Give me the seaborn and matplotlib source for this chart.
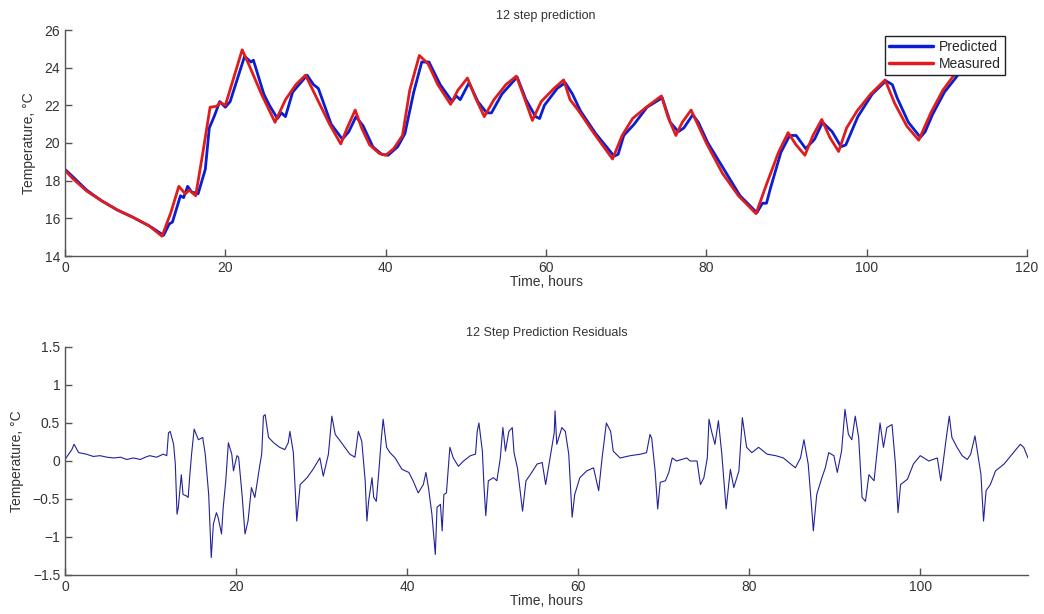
import matplotlib
matplotlib.use("Agg")
import matplotlib.pyplot as plt
import seaborn as sns
import pandas as pd

# ---- data ----
meas_t = [0, 1, 2.7, 4.5, 6.5, 8.5, 10.5, 12.1, 13.2, 14.2, 15.0, 15.5, 16.3, 17.2, 18.1, 18.9, 19.4, 20.0,
          21.0, 22.1, 23.0, 24.5, 26.2, 27.5, 28.8, 30.0, 31.5, 33.0, 34.4, 35.2, 36.2, 37.0, 38.0, 39.2,
          40.0, 41.0, 42.1, 43.0, 44.2, 45.3, 46.5, 48.1, 49.0, 50.2, 51.2, 52.3, 53.5, 55.0, 56.3, 57.3,
          58.3, 59.4, 61.0, 62.2, 63.0, 64.0, 66.0, 68.3, 69.5, 70.8, 72.5, 74.4, 75.2, 76.2, 77.0, 78.1,
          80.0, 82.0, 84.0, 86.2, 87.5, 89.0, 90.2, 91.2, 92.3, 93.3, 94.4, 95.4, 96.5, 97.5, 98.8, 100.5,
          102.3, 103.5, 105.0, 106.5, 108.0, 109.5, 110.8, 112.6]
meas_T = [18.55, 18.1, 17.45, 16.95, 16.45, 16.05, 15.6, 15.05, 16.3, 17.7, 17.3, 17.5, 17.2, 19.5, 21.9, 21.95,
          22.15, 22.0, 23.4, 24.95, 24.1, 22.6, 21.1, 22.3, 23.1, 23.6, 22.3, 21.0, 19.95, 20.8, 21.75, 20.8,
          19.9, 19.45, 19.35, 19.7, 20.4, 22.8, 24.65, 24.2, 23.1, 22.05, 22.8, 23.45, 22.4, 21.4, 22.3, 23.1,
          23.55, 22.4, 21.2, 22.2, 22.9, 23.35, 22.3, 21.75, 20.5, 19.15, 20.4, 21.3, 21.9, 22.5, 21.4, 20.4,
          21.1, 21.75, 20.0, 18.4, 17.2, 16.25, 17.8, 19.5, 20.55, 19.9, 19.35, 20.4, 21.25, 20.3, 19.55, 20.8,
          21.7, 22.6, 23.35, 22.1, 20.9, 20.15, 21.6, 22.8, 23.55, 24.5]

pred_t = [0, 1, 2.7, 4.5, 6.5, 8.5, 10.5, 12.3, 13.0, 13.4, 14.4, 14.8, 15.3, 15.8, 16.6, 17.5, 18.0, 18.6,
          19.3, 20.0, 20.6, 21.2, 22.4, 23.2, 23.5, 24.8, 25.5, 26.5, 27.0, 27.5, 28.4, 30.2, 31.0, 31.6,
          33.2, 34.6, 35.4, 36.3, 37.2, 38.4, 39.5, 40.3, 41.5, 42.4, 43.5, 44.5, 45.4, 46.8, 48.3, 48.8,
          49.3, 50.4, 51.5, 52.6, 53.2, 54.5, 56.4, 57.5, 58.7, 59.2, 59.8, 61.4, 62.4, 63.3, 64.3, 66.2,
          68.5, 69.0, 69.7, 71.0, 72.6, 74.5, 75.5, 76.5, 77.2, 78.3, 79.0, 80.2, 84.2, 86.3, 87.0, 87.5,
          88.0, 89.3, 90.4, 91.2, 92.4, 93.5, 94.5, 95.7, 96.8, 97.4, 98.9, 100.7, 102.4, 103.2, 103.8,
          105.2, 106.7, 107.3, 108.2, 109.7, 111.0, 112.6]
pred_T = [18.6, 18.2, 17.5, 16.95, 16.45, 16.05, 15.6, 15.1, 15.7, 15.8, 17.2, 17.1, 17.7, 17.4, 17.3, 18.6,
          20.8, 21.4, 22.2, 21.9, 22.2, 23.0, 24.6, 24.3, 24.4, 22.6, 22.0, 21.3, 21.6, 21.4, 22.7, 23.6,
          23.1, 22.9, 21.0, 20.2, 20.6, 21.4, 20.9, 19.8, 19.4, 19.35, 19.8, 20.5, 22.7, 24.3, 24.3, 23.1,
          22.2, 22.5, 22.3, 23.2, 22.2, 21.6, 21.6, 22.6, 23.5, 22.3, 21.4, 21.3, 22.0, 22.9, 23.2, 22.6,
          21.7, 20.5, 19.3, 19.4, 20.4, 21.0, 21.9, 22.4, 21.1, 20.6, 20.8, 21.5, 21.1, 20.0, 17.2, 16.3,
          16.8, 16.8, 17.6, 19.5, 20.4, 20.4, 19.7, 20.2, 21.1, 20.6, 19.8, 19.9, 21.4, 22.6, 23.3, 23.1,
          22.4, 21.1, 20.3, 20.6, 21.5, 22.7, 23.4, 24.3]

res_t = [0, 0.8, 1.05, 1.6, 2.5, 3.3, 4.1, 4.9, 5.7, 6.5, 7.2, 8.0, 8.8, 9.4, 9.9, 10.7, 11.5, 11.9,
         12.1, 12.3, 12.7, 12.9, 13.1, 13.25, 13.6, 13.8, 14.2, 14.4, 14.6, 14.8, 15.1, 15.6, 16.1, 16.4,
         16.8, 17.1, 17.35, 17.7, 17.9, 18.3, 18.5, 18.8, 19.1, 19.5, 19.7, 20.1, 20.3, 20.7, 21.05, 21.4,
         21.8, 22.2, 22.8, 23.0, 23.2, 23.4, 23.8, 24.4, 25.1, 25.7, 26.1, 26.3, 26.7, 27.1, 27.5, 28.3,
         29.0, 29.8, 30.2, 30.8, 31.2, 31.6, 32.2, 33.3, 33.9, 34.3, 34.7, 35.1, 35.3, 35.5, 35.9, 36.1,
         36.4, 36.7, 37.0, 37.2, 37.6, 38.0, 38.6, 39.4, 40.2, 40.7, 41.3, 41.9, 42.2, 42.5, 42.9, 43.3,
         43.5, 43.9, 44.1, 44.3, 44.6, 45.0, 45.4, 46.0, 46.6, 47.4, 48.0, 48.2, 48.4, 48.8, 49.0, 49.2,
         49.5, 50.1, 50.5, 50.9, 51.2, 51.5, 51.9, 52.3, 52.5, 52.9, 53.5, 53.9, 54.4, 55.2, 55.8, 56.2,
         56.6, 57.2, 57.3, 57.5, 58.1, 58.5, 58.9, 59.3, 59.6, 60.2, 61.0, 61.8, 62.4, 62.8, 63.3, 63.8,
         64.1, 64.9, 66.1, 67.3, 68.0, 68.4, 68.6, 69.0, 69.3, 69.6, 70.2, 70.6, 71.0, 71.5, 72.7, 73.1,
         73.9, 74.3, 74.7, 75.1, 75.3, 75.6, 76.0, 76.4, 76.8, 77.3, 77.8, 78.2, 78.8, 79.2, 79.7, 80.3,
         81.1, 82.1, 83.1, 84.0, 85.4, 86.0, 86.4, 86.9, 87.3, 87.5, 87.9, 88.5, 88.9, 89.3, 89.9, 90.3,
         90.8, 91.2, 91.6, 92.0, 92.4, 92.8, 93.2, 93.6, 94.0, 94.6, 95.3, 95.7, 96.1, 96.7, 97.1, 97.4,
         97.7, 98.5, 99.2, 100.0, 101.0, 102.0, 102.4, 102.7, 103.1, 103.4, 103.7, 104.3, 104.9, 105.5,
         105.9, 106.4, 106.8, 107.1, 107.4, 107.7, 108.2, 108.8, 109.8, 110.9, 111.7, 112.1, 112.6]
res_v = [0.02, 0.15, 0.22, 0.11, 0.09, 0.06, 0.07, 0.05, 0.04, 0.05, 0.02, 0.04, 0.02, 0.05, 0.07, 0.05, 0.09, 0.07,
         0.37, 0.39, 0.22, -0.04, -0.70, -0.61, -0.18, -0.44, -0.46, -0.48, -0.18, 0.09, 0.42, 0.28, 0.31, 0.09,
         -0.44, -1.27, -0.83, -0.68, -0.74, -0.96, -0.61, -0.26, 0.24, 0.09, -0.13, 0.07, 0.05, -0.44, -0.96, -0.79,
         -0.35, -0.48, -0.04, 0.09, 0.59, 0.61, 0.31, 0.24, 0.18, 0.15, 0.24, 0.39, 0.11, -0.79, -0.31, -0.22,
         -0.11, 0.04, -0.20, 0.09, 0.59, 0.35, 0.26, 0.09, 0.05, 0.39, 0.26, -0.26, -0.79, -0.53, -0.22, -0.48,
         -0.53, -0.13, 0.31, 0.55, 0.18, 0.11, 0.04, -0.11, -0.15, -0.26, -0.42, -0.31, -0.15, -0.35, -0.70, -1.23,
         -0.61, -0.57, -0.92, -0.44, -0.42, 0.18, 0.04, -0.07, 0.0, 0.07, 0.09, 0.39, 0.50, 0.13, -0.35, -0.72,
         -0.26, -0.22, -0.26, 0.04, 0.44, 0.13, 0.39, 0.44, 0.11, -0.09, -0.66, -0.26, -0.18, -0.04, -0.02, -0.31,
         -0.04, 0.37, 0.66, 0.22, 0.44, 0.39, 0.09, -0.74, -0.44, -0.22, -0.13, -0.09, -0.39, 0.04, 0.50, 0.39,
         0.13, 0.04, 0.07, 0.09, 0.11, 0.35, 0.30, -0.13, -0.63, -0.28, -0.26, -0.15, 0.04, 0.0, 0.04, 0.0,
         0.0, -0.31, -0.22, 0.04, 0.55, 0.39, 0.22, 0.53, 0.09, -0.63, -0.11, -0.35, -0.13, 0.57, 0.18, 0.11,
         0.18, 0.09, 0.07, 0.04, -0.09, 0.04, 0.28, -0.04, -0.61, -0.92, -0.44, -0.22, -0.09, 0.11, 0.07, -0.15,
         0.13, 0.68, 0.35, 0.28, 0.59, 0.31, -0.48, -0.53, -0.18, -0.26, 0.50, 0.18, 0.44, 0.48, -0.04, -0.68,
         -0.31, -0.24, -0.04, 0.07, 0.0, 0.04, -0.26, 0.0, 0.35, 0.59, 0.31, 0.18, 0.07, 0.02,
         0.09, 0.33, 0.04, -0.18, -0.79, -0.39, -0.31, -0.13, -0.04, 0.11, 0.22, 0.18, 0.04]

top_title = "12 step prediction"
bot_title = "12 Step Prediction Residuals"
xlabel = "Time, hours"
ylabel = "Temperature, °C"

sns.set_style("white")
plt.rcParams['font.family'] = ['Liberation Sans', 'DejaVu Sans']

W, H = 1044, 614
fig = plt.figure(figsize=(W / 100, H / 100), dpi=100)
ax1 = fig.add_axes([65 / W, 1 - 256 / H, (1027 - 65) / W, (256 - 30) / H])
ax2 = fig.add_axes([65 / W, 1 - 575 / H, (1028 - 65) / W, (575 - 347) / H])

df_pred = pd.DataFrame({"t": pred_t, "T": pred_T})
df_meas = pd.DataFrame({"t": meas_t, "T": meas_T})
df_res = pd.DataFrame({"t": res_t, "r": res_v})

sns.lineplot(data=df_pred, x="t", y="T", ax=ax1, color="#0a1ed2", linewidth=2.0, label="Predicted", sort=False)
sns.lineplot(data=df_meas, x="t", y="T", ax=ax1, color="#e01c1c", linewidth=2.0, label="Measured", sort=False)
sns.lineplot(data=df_res, x="t", y="r", ax=ax2, color="#22229a", linewidth=0.8, sort=False)

ax1.set_xlim(0, 120)
ax1.set_ylim(14, 26)
ax1.set_xticks(range(0, 121, 20))
ax1.set_yticks(range(14, 27, 2))
ax2.set_xlim(0, 112.6)
ax2.set_ylim(-1.5, 1.5)
ax2.set_xticks(range(0, 101, 20))
ax2.set_yticks([-1.5, -1, -0.5, 0, 0.5, 1, 1.5])
ax2.set_yticklabels(["\u22121.5", "\u22121", "\u22120.5", "0", "0.5", "1", "1.5"])

for ax, title in ((ax1, top_title), (ax2, bot_title)):
    ax.set_title(title, fontsize=9, color="#333333", pad=8)
    ax.set_xlabel(xlabel, fontsize=10, color="#333333", labelpad=0)
    ax.set_ylabel(ylabel, fontsize=10, color="#333333", labelpad=6)
    for s in ("top", "right"):
        ax.spines[s].set_visible(False)
    for s in ("left", "bottom"):
        ax.spines[s].set_color("#555555")
        ax.spines[s].set_linewidth(1.0)
    ax.tick_params(direction="in", length=5, width=1, colors="#555555", labelsize=10,
                   labelcolor="#333333", left=True, bottom=True)

leg = ax1.legend(loc="upper right", bbox_to_anchor=(0.977, 0.975), fontsize=10, frameon=True,
                 fancybox=False, edgecolor="#222222", framealpha=1, borderpad=0.3,
                 handlelength=3.2, handletextpad=0.4, labelspacing=0.2, borderaxespad=0)
leg.get_frame().set_linewidth(1.0)
for line in leg.get_lines():
    line.set_linewidth(2.5)

fig.savefig("out.png", dpi=100)
